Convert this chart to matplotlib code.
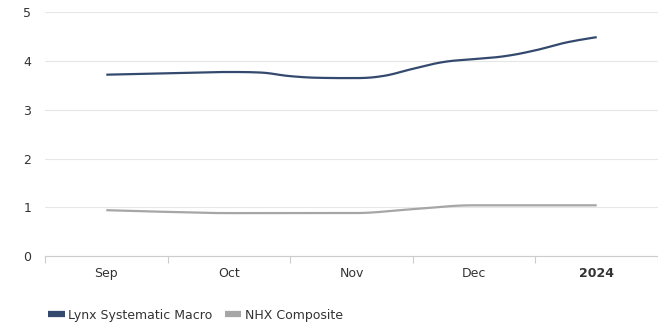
import numpy as np
import matplotlib
matplotlib.use("Agg")
import matplotlib.pyplot as plt
from matplotlib.lines import Line2D

# month labels, readings at quarter-month (lynx) and half-month (nhx) steps
categories = ["Sep", "Oct", "Nov", "Dec", "2024"]
lynx_period = [0, 0.25, 0.5, 0.75, 1, 1.25, 1.5, 1.75, 2, 2.25, 2.5, 2.75, 3, 3.25, 3.5, 3.75, 4]
lynx = [3.72, 3.735, 3.75, 3.765, 3.775, 3.765, 3.69, 3.655, 3.65, 3.69, 3.84, 3.98, 4.04,
        4.10, 4.22, 4.38, 4.49]
nhx_period = [0, 0.5, 1, 1.5, 2, 2.5, 3, 3.5, 4]
nhx = [0.94, 0.905, 0.88, 0.88, 0.88, 0.96, 1.04, 1.04, 1.04]
series_names = ["Lynx Systematic Macro", "NHX Composite"]
series_colors = ["#34496e", "#a6a6a6"]
y_ticks = [0, 1, 2, 3, 4, 5]


def spline_path(xs, ys, smoothing=1.5, n=40):
    # smooth bezier curve through the points (same rule as highcharts spline)
    xs = list(map(float, xs))
    ys = list(map(float, ys))
    k = len(xs)
    lc = [(x, y) for x, y in zip(xs, ys)]
    rc = [(x, y) for x, y in zip(xs, ys)]
    d = smoothing + 1
    for i in range(1, k - 1):
        x, y = xs[i], ys[i]
        lx, ly = xs[i - 1], ys[i - 1]
        nx, ny = xs[i + 1], ys[i + 1]
        lcx = (smoothing * x + lx) / d
        lcy = (smoothing * y + ly) / d
        rcx = (smoothing * x + nx) / d
        rcy = (smoothing * y + ny) / d
        if rcx != lcx:
            corr = (rcy - lcy) * (rcx - x) / (rcx - lcx) + y - rcy
            lcy += corr
            rcy += corr
        if lcy > ly and lcy > y:
            lcy = max(ly, y)
            rcy = 2 * y - lcy
        elif lcy < ly and lcy < y:
            lcy = min(ly, y)
            rcy = 2 * y - lcy
        if rcy > ny and rcy > y:
            rcy = max(ny, y)
            lcy = 2 * y - rcy
        elif rcy < ny and rcy < y:
            rcy = min(ny, y)
            lcy = 2 * y - rcy
        lc[i] = (lcx, lcy)
        rc[i] = (rcx, rcy)
    t = np.linspace(0, 1, n)
    px, py = [], []
    for i in range(1, k):
        p0 = (xs[i - 1], ys[i - 1])
        p1 = rc[i - 1]
        p2 = lc[i]
        p3 = (xs[i], ys[i])
        bx = (1 - t) ** 3 * p0[0] + 3 * (1 - t) ** 2 * t * p1[0] + 3 * (1 - t) * t ** 2 * p2[0] + t ** 3 * p3[0]
        by = (1 - t) ** 3 * p0[1] + 3 * (1 - t) ** 2 * t * p1[1] + 3 * (1 - t) * t ** 2 * p2[1] + t ** 3 * p3[1]
        px.extend(bx)
        py.extend(by)
    return px, py


plt.rcParams["font.family"] = ["DejaVu Sans"]
fig = plt.figure(figsize=(6.58, 3.29), dpi=100)
ax = fig.add_axes([45 / 658, 1 - 256 / 329, 1 - 45 / 658, (256 - 12.3) / 329])

for xs, vals, color in zip([lynx_period, nhx_period], [lynx, nhx], series_colors):
    sx, sy = spline_path(xs, vals)
    ax.plot(sx, sy, color=color, lw=1.6, solid_capstyle="butt", zorder=3)

ax.set_xlim(-0.5, len(categories) - 0.5)
ax.set_ylim(0, 5)
ax.set_yticks(y_ticks)
ax.set_yticklabels([str(v) for v in y_ticks])
ax.tick_params(axis="y", length=0, pad=10, labelsize=9, labelcolor="#333333")
ax.grid(axis="y", color="#e6e6e6", lw=0.8)
ax.set_axisbelow(True)

ax.set_xticks(np.arange(len(categories)))
ax.set_xticklabels(categories)
ax.set_xticks(np.arange(-0.5, len(categories)), minor=True)
ax.tick_params(axis="x", which="major", length=0, pad=8, labelsize=9, labelcolor="#333333")
ax.tick_params(axis="x", which="minor", length=5, width=0.8, color="#cccccc")
ax.get_xticklabels()[-1].set_fontweight("bold")

for side in ["top", "right", "left"]:
    ax.spines[side].set_visible(False)
ax.spines["bottom"].set_color("#cccccc")
ax.spines["bottom"].set_linewidth(0.8)

handles = [Line2D([], [], color=c, lw=4.5, solid_capstyle="butt") for c in series_colors]
fig.legend(handles, series_names, loc="center left", bbox_to_anchor=(37 / 658, 1 - 315 / 329),
           ncol=2, frameon=False, fontsize=9, handlelength=1.3, handletextpad=0.3,
           columnspacing=1.0, labelcolor="#333333")

fig.savefig("out.png", dpi=100)
